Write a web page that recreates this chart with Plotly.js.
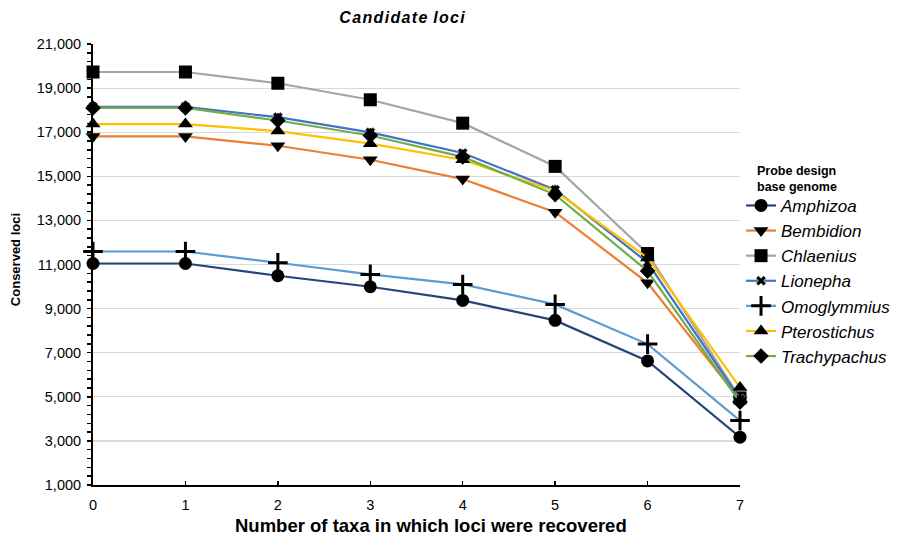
<!DOCTYPE html>
<html>
<head>
<meta charset="utf-8">
<script src="https://cdn.plot.ly/plotly-3.0.1.min.js"></script>
<style>html,body{margin:0;padding:0;background:#fff;}#chart{width:898px;height:540px;}</style>
</head>
<body>
<div id="chart"></div>
<script>
var taxa = [0, 1, 2, 3, 4, 5, 6, 7];
var seriesNames = ["Amphizoa", "Bembidion", "Chlaenius", "Lionepha", "Omoglymmius", "Pterostichus", "Trachypachus"];
var amphizoa     = [11045, 11045, 10490, 9990, 9370, 8466, 6625, 3170];
var bembidion    = [16810, 16810, 16385, 15750, 14875, 13370, 10170, 4850];
var chlaenius    = [19730, 19730, 19220, 18470, 17410, 15450, 11500, 4950];
var lionepha     = [18150, 18150, 17680, 16990, 16055, 14390, 11090, 4900];
var omoglymmius  = [11590, 11590, 11080, 10550, 10095, 9190, 7390, 3920];
var pterostichus = [17370, 17370, 17050, 16480, 15750, 14330, 11300, 5420];
var trachypachus = [18100, 18100, 17530, 16850, 15880, 14170, 10700, 4760];
var yTickVals = [1000, 3000, 5000, 7000, 9000, 11000, 13000, 15000, 17000, 19000, 21000];

var values = [amphizoa, bembidion, chlaenius, lionepha, omoglymmius, pterostichus, trachypachus];
var colors = ["#264478", "#ED7D31", "#A5A5A5", "#4472C4", "#5B9BD5", "#FFC000", "#70AD47"];
var symbols = ["circle", "triangle-down", "square", "x", "cross-thin", "triangle-up", "diamond"];
var sizes = [13, 13, 13, 9, 14, 13, 12];

var traces = seriesNames.map(function (name, i) {
  var m = {symbol: symbols[i], size: sizes[i], color: "#000000", line: {width: 0, color: "#000000"}};
  if (symbols[i] === "cross-thin") { m.line = {width: 3, color: "#000000"}; }
  if (symbols[i] === "x") { m.line = {width: 0.5, color: "#ffffff"}; }
  return {
    type: "scatter", mode: "lines+markers", name: name,
    x: taxa, y: values[i], cliponaxis: false,
    line: {color: colors[i], width: 2.2},
    marker: m
  };
});

var layout = {
  width: 898, height: 540,
  margin: {l: 93, r: 158, t: 44, b: 55},
  paper_bgcolor: "#ffffff", plot_bgcolor: "#ffffff",
  font: {family: "Liberation Sans, Arial, sans-serif", color: "#000000", size: 12},
  title: {
    text: "<b><i>C a n d i d a t e  l o c i</i></b>".replace(/ (?=\S)/g, "\u200A").replace(/\u200A\u200A/g, " "),
    font: {size: 16, family: "Liberation Sans, Arial, sans-serif"},
    x: 0.4477, xanchor: "center", y: 0.967, yanchor: "middle"
  },
  xaxis: {
    range: [0, 7], tickvals: taxa, ticktext: taxa.map(String),
    showgrid: false, zeroline: false,
    showline: true, linecolor: "#000000", linewidth: 2,
    ticks: "inside", ticklen: 4, tickwidth: 1.5, tickcolor: "#000000",
    tickfont: {size: 14.5}, ticklabelstandoff: 6
  },
  yaxis: {
    range: [1000, 21000], tickvals: yTickVals,
    tickformat: ",d",
    showgrid: true, gridcolor: "#D9D9D9", gridwidth: 1.2, zeroline: false,
    showline: true, linecolor: "#000000", linewidth: 2,
    ticks: "outside", ticklen: 4, tickwidth: 1.5, tickcolor: "#000000",
    minor: {dtick: 400, tick0: 1000, ticks: "outside", ticklen: 4, tickwidth: 1.5, tickcolor: "#000000", showgrid: false},
    tickfont: {size: 14.5}, ticklabelstandoff: 3
  },
  annotations: [
    {text: "<b>Number of taxa in which loci were recovered</b>", xref: "paper", yref: "paper",
     x: 0.5224, y: -0.0928, xanchor: "center", yanchor: "middle", showarrow: false,
     font: {size: 18.5}},
    {text: "<b>Conserved loci</b>", textangle: -90, xref: "paper", yref: "paper",
     x: -0.1205, y: 0.51, xanchor: "center", yanchor: "middle", showarrow: false,
     font: {size: 13}},
    {text: "<b>Probe design<br>base genome</b>", xref: "paper", yref: "paper",
     x: 1.023, y: 0.695, xanchor: "left", yanchor: "middle", showarrow: false, align: "left",
     font: {size: 12.5}}
  ],
  showlegend: true,
  legend: {
    xref: "container", yref: "container",
    x: 0.8252, xanchor: "left", y: 0.652, yanchor: "top",
    font: {size: 17, style: "italic"},
    itemwidth: 30, tracegroupgap: 0,
    bgcolor: "rgba(0,0,0,0)"
  }
};

Plotly.newPlot("chart", traces, layout, {displayModeBar: false, staticPlot: true});
</script>
</body>
</html>
